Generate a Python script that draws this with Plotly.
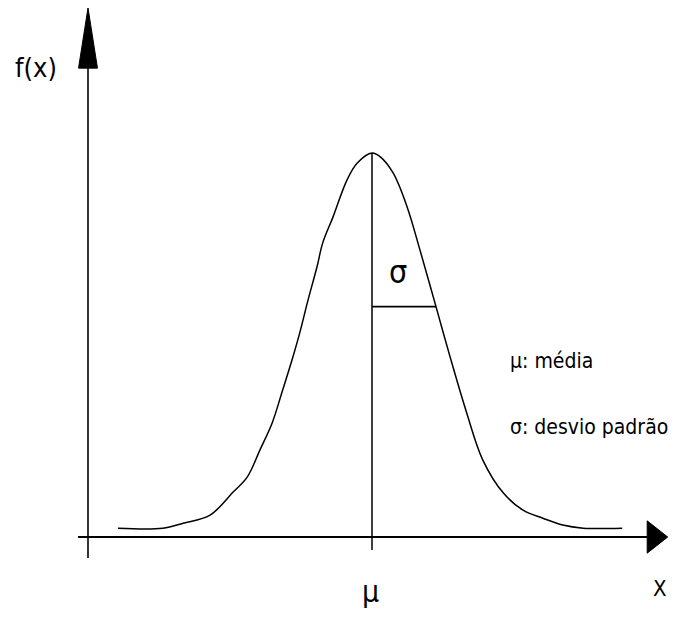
import numpy as np
import plotly.graph_objects as go

# Curve: x in units of sigma from the mean, f(x) normalised to peak = 1
x_vals = [-3.97, -3.27, -2.95, -2.53, -2.17, -1.95, -1.75, -1.56, -1.41, -1.25, -1.13,
          -1.00, -0.86, -0.77, -0.61, -0.39, -0.23, 0.00,
          0.13, 0.33, 0.55, 0.75, 1.00, 1.22, 1.48, 1.73, 2.05, 2.36, 2.67, 2.98, 3.30, 3.91]
f_vals = [0.023, 0.023, 0.036, 0.057, 0.117, 0.156, 0.227, 0.297, 0.375, 0.461, 0.531,
          0.617, 0.703, 0.766, 0.833, 0.930, 0.974, 1.000,
          0.990, 0.948, 0.859, 0.747, 0.600, 0.469, 0.323, 0.201, 0.115, 0.070, 0.049, 0.031, 0.023, 0.023]
mu = 0.0
sigma = 1.0

labels_axis = {"y": "f(x)", "x": "X"}
label_mu = "μ"
label_sigma = "σ"
legend_lines = ["μ: média", "σ: desvio padrão"]

# page has an 8px body margin on every side: figure covers page pixels 8..668 / 8..610
OFF = 8
W, H = 676 - 2 * OFF, 618 - 2 * OFF
X_RANGE = [(OFF - 372) / 64, (OFF + W - 372) / 64]
Y_RANGE = [(537 - (OFF + H)) / 384, (537 - OFF) / 384]

FONT = "DejaVu Sans Condensed, DejaVu Sans, sans-serif"


def px(x):
    return (x - OFF) / W


def py(y):
    return 1 - (y - OFF) / H


fig = go.Figure()
fig.add_trace(go.Scatter(x=x_vals, y=f_vals, mode="lines",
                         line=dict(color="black", width=1.5, shape="spline", smoothing=1.0),
                         hoverinfo="skip", showlegend=False))

peak = max(f_vals)
f_sigma = float(np.interp(mu + sigma, x_vals, f_vals))

# axes geometry (decoration)
y_axis_x = -4.4375
x_axis_start = -4.594
x_arrow_base, x_arrow_tip, x_arrow_half = 4.30, 4.62, 0.042
y_axis_bottom = -0.055
y_arrow_base, y_arrow_tip, y_arrow_half = 1.221, 1.378, 0.148

shapes = [
    dict(type="line", x0=x_axis_start, x1=x_arrow_base, y0=0, y1=0,
         line=dict(color="black", width=2.2)),
    dict(type="line", x0=y_axis_x, x1=y_axis_x, y0=y_axis_bottom, y1=y_arrow_base,
         line=dict(color="black", width=1.6)),
    dict(type="path",
         path=f"M {x_arrow_base} {-x_arrow_half} L {x_arrow_tip} 0 L {x_arrow_base} {x_arrow_half} Z",
         fillcolor="black", line=dict(color="black", width=1)),
    dict(type="path",
         path=f"M {y_axis_x - y_arrow_half} {y_arrow_base} L {y_axis_x} {y_arrow_tip} L {y_axis_x + y_arrow_half} {y_arrow_base} Z",
         fillcolor="black", line=dict(color="black", width=1)),
    dict(type="line", x0=mu, x1=mu, y0=-0.034, y1=peak,
         line=dict(color="black", width=1.5)),
    dict(type="line", x0=mu, x1=mu + sigma, y0=f_sigma, y1=f_sigma,
         line=dict(color="black", width=1.8)),
]


def txt(x, y, s, size, xanchor="center"):
    return dict(x=px(x), y=py(y), xref="paper", yref="paper", text=s,
                xanchor=xanchor, yanchor="middle", showarrow=False,
                font=dict(family=FONT, size=size, color="black"))


annotations = [
    txt(36, 67, labels_axis["y"], 27),
    txt(660, 588, labels_axis["x"], 22),
    txt(370, 591, label_mu, 30),
    txt(398, 272, label_sigma, 32),
    txt(508, 361, legend_lines[0], 21, "left"),
    txt(508, 427, legend_lines[1], 21, "left"),
]

fig.update_layout(
    width=W, height=H,
    margin=dict(l=0, r=0, t=0, b=0),
    paper_bgcolor="white", plot_bgcolor="white",
    xaxis=dict(range=X_RANGE, visible=False, fixedrange=True),
    yaxis=dict(range=Y_RANGE, visible=False, fixedrange=True),
    shapes=shapes, annotations=annotations, showlegend=False,
)

fig.write_html("out.html", config={"displayModeBar": False})
